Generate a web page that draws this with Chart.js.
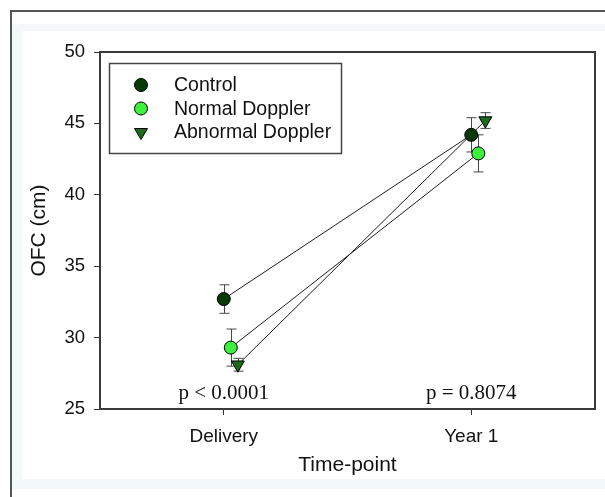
<!DOCTYPE html>
<html>
<head>
<meta charset="utf-8">
<script src="https://cdn.jsdelivr.net/npm/chart.js@4.4.0/dist/chart.umd.min.js"></script>
<style>
  html, body { margin: 0; padding: 0; background: #fff; }
  #wrap { width: 605px; height: 497px; }
</style>
</head>
<body>
<div id="wrap"><canvas id="chart" width="605" height="497"></canvas></div>
<script>
// values (mean +/- error)
const categories = ['Delivery', 'Year 1'];
const seriesNames = ['Control', 'Normal Doppler', 'Abnormal Doppler'];
const controlMean = [32.7, 44.2];
const controlErr = [1.0, 1.2];
const normalMean = [29.3, 42.9];
const normalErr = [1.3, 1.3];
const abnormalMean = [28.1, 45.2];
const abnormalErr = [0.45, 0.55];
const pLabels = ['p < 0.0001', 'p = 0.8074'];
const yTicks = [25, 30, 35, 40, 45, 50];

const SANS = '"Liberation Sans", Arial, sans-serif';
const SERIF = '"Liberation Serif", "Times New Roman", serif';
const fills = ['#083a08', '#3df03d', '#1c6c1c'];
const shapes = ['circle', 'circle', 'triangle'];
const shift = [0, 0.057, 0.114]; // small horizontal dodge between groups

function catX(i) { return 2 * i + 1; }

function makeSet(k, means, errs) {
  return {
    label: seriesNames[k],
    data: means.map((v, i) => ({ x: catX(i) + shift[k], y: v })),
    errors: errs,
    borderColor: '#1e1e1e',
    borderWidth: 1,
    backgroundColor: fills[k],
    pointBackgroundColor: fills[k],
    pointBorderColor: '#000',
    pointBorderWidth: 1,
    pointStyle: shapes[k],
    pointRotation: shapes[k] === 'triangle' ? 180 : 0,
    pointRadius: shapes[k] === 'triangle' ? 7.5 : 6.5,
    showLine: true,
    fill: false
  };
}

const pageFrame = {
  id: 'pageFrame',
  beforeDraw(chart) {
    const ctx = chart.ctx;
    ctx.save();
    ctx.fillStyle = '#fff';
    ctx.fillRect(0, 0, 605, 497);
    ctx.fillStyle = '#f3f8f9';
    ctx.fillRect(12, 24, 593, 465);
    ctx.fillStyle = '#fff';
    ctx.fillRect(22, 31, 583, 448);
    ctx.fillStyle = '#555';
    ctx.fillRect(10, 10, 595, 2);
    ctx.fillRect(10, 10, 2, 487);
    ctx.restore();
  }
};

const errorBars = {
  id: 'errorBars',
  beforeDatasetsDraw(chart) {
    const ctx = chart.ctx;
    const ys = chart.scales.y;
    ctx.save();
    ctx.strokeStyle = '#474747';
    ctx.lineWidth = 1;
    chart.data.datasets.forEach((ds, k) => {
      chart.getDatasetMeta(k).data.forEach((pt, i) => {
        const top = ys.getPixelForValue(ds.data[i].y + ds.errors[i]);
        const bot = ys.getPixelForValue(ds.data[i].y - ds.errors[i]);
        const x = Math.round(pt.x) + 0.5;
        ctx.beginPath();
        ctx.moveTo(x, top); ctx.lineTo(x, bot);
        ctx.moveTo(x - 5, top); ctx.lineTo(x + 5, top);
        ctx.moveTo(x - 5, bot); ctx.lineTo(x + 5, bot);
        ctx.stroke();
      });
    });
    ctx.restore();
  }
};

const boxAndNotes = {
  id: 'boxAndNotes',
  afterDatasetsDraw(chart) {
    const ctx = chart.ctx;
    const a = chart.chartArea;
    const xs = chart.scales.x, ys = chart.scales.y;
    ctx.save();
    // plot frame
    ctx.strokeStyle = '#3a3a3a';
    ctx.lineWidth = 2;
    ctx.strokeRect(a.left, a.top, a.right - a.left, a.bottom - a.top);
    // p-values
    ctx.fillStyle = '#111';
    ctx.font = '21px ' + SERIF;
    ctx.textAlign = 'center';
    ctx.textBaseline = 'alphabetic';
    pLabels.forEach((t, i) => {
      ctx.fillText(t, xs.getPixelForValue(catX(i)), ys.getPixelForValue(25) - 10);
    });
    // legend
    ctx.strokeStyle = '#444';
    ctx.lineWidth = 1.5;
    ctx.strokeRect(109.5, 63.5, 232, 90);
    ctx.font = '19.5px ' + SANS;
    ctx.textAlign = 'left';
    ctx.textBaseline = 'middle';
    seriesNames.forEach((name, k) => {
      const cy = 85 + k * 23.5;
      ctx.fillStyle = fills[k];
      ctx.strokeStyle = '#000';
      ctx.lineWidth = 1;
      ctx.beginPath();
      if (shapes[k] === 'triangle') {
        ctx.moveTo(141 - 6.5, cy - 3.5);
        ctx.lineTo(141 + 6.5, cy - 3.5);
        ctx.lineTo(141, cy + 7.5);
        ctx.closePath();
      } else {
        ctx.arc(141, cy, 6.5, 0, Math.PI * 2);
      }
      ctx.fill();
      ctx.stroke();
      ctx.fillStyle = '#111';
      ctx.fillText(name, 174, cy + 1);
    });
    ctx.restore();
  }
};

new Chart(document.getElementById('chart').getContext('2d'), {
  type: 'scatter',
  data: {
    datasets: [
      makeSet(0, controlMean, controlErr),
      makeSet(1, normalMean, normalErr),
      makeSet(2, abnormalMean, abnormalErr)
    ]
  },
  options: {
    responsive: false,
    animation: false,
    devicePixelRatio: 1,
    layout: { padding: { top: 52, right: 10, left: 0, bottom: 0 } },
    plugins: { legend: { display: false }, tooltip: { enabled: false } },
    scales: {
      x: {
        type: 'linear',
        min: 0,
        max: 4,
        afterFit(scale) { scale.height = 88; },
        afterBuildTicks(scale) { scale.ticks = categories.map((c, i) => ({ value: catX(i) })); },
        ticks: {
          callback: (v) => categories[(v - 1) / 2],
          font: { family: SANS, size: 19 },
          color: '#111',
          padding: 10,
          maxRotation: 0
        },
        grid: { drawOnChartArea: false, drawTicks: true, tickLength: 6, color: '#333' },
        border: { display: false },
        title: {
          display: true,
          text: 'Time-point',
          font: { family: SANS, size: 21 },
          color: '#111',
          padding: { top: 0, bottom: 19 }
        }
      },
      y: {
        min: 25,
        max: 50,
        afterFit(scale) { scale.width = 100; },
        afterBuildTicks(scale) { scale.ticks = yTicks.map(v => ({ value: v })); },
        ticks: {
          font: { family: SANS, size: 18.5 },
          color: '#111',
          padding: 9
        },
        grid: { drawOnChartArea: false, drawTicks: true, tickLength: 6, color: '#333' },
        border: { display: false },
        title: {
          display: true,
          text: 'OFC (cm)',
          font: { family: SANS, size: 21 },
          color: '#111',
          padding: { top: 27, bottom: 0 }
        }
      }
    }
  },
  plugins: [pageFrame, errorBars, boxAndNotes]
});
</script>
</body>
</html>
